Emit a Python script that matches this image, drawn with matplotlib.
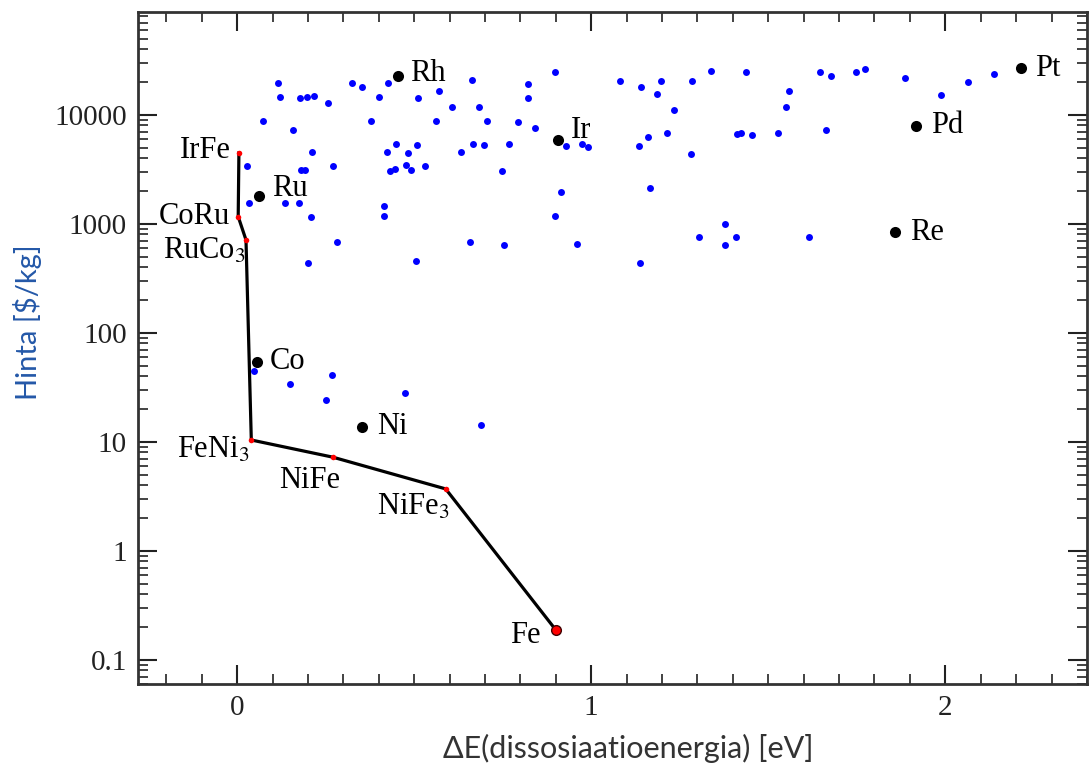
import matplotlib
matplotlib.use('Agg')
import matplotlib.pyplot as plt
from matplotlib.ticker import MultipleLocator, LogLocator, NullFormatter

plt.rcParams['mathtext.fontset'] = 'stix'

# blue: other alloys
blue_x = [0.116, 0.121, 0.072, 0.158, 0.177, 0.196, 0.217, 0.257, 0.325, 0.354,
          0.427, 0.401, 0.377, 0.511, 0.570, 0.606, 0.561, 0.662, 0.683, 0.705,
          0.792, 0.841, 0.822, 0.822, 0.897, 0.212, 0.029, 0.180, 0.193, 0.271,
          0.450, 0.422, 0.483, 0.508, 0.433, 0.445, 0.476, 0.490, 0.530, 0.631,
          0.667, 0.697, 0.768, 0.747, 0.930, 0.973, 0.992, 0.916, 0.899, 0.033,
          0.135, 0.175, 0.208, 0.414, 0.414, 0.281, 0.199, 0.505, 0.659, 0.754,
          0.959, 1.081, 1.140, 1.197, 1.185, 1.234, 1.285, 1.337, 1.437, 1.558,
          1.550, 1.646, 1.676, 1.748, 1.773, 1.886, 1.987, 2.063, 2.138, 1.136,
          1.159, 1.213, 1.281, 1.411, 1.422, 1.453, 1.527, 1.663, 1.167, 1.378,
          1.305, 1.409, 1.378, 1.616, 1.138, 0.047, 0.149, 0.267, 0.251, 0.474,
          0.688]
blue_y = [19800, 14700, 8810, 7280, 14400, 14700, 15000, 12800, 19800, 17900,
          19800, 14700, 8810, 14400, 16700, 11800, 8870, 20900, 11900, 8870,
          8570, 7640, 19200, 14200, 24700, 4600, 3430, 3130, 3130, 3400,
          5380, 4550, 4450, 5310, 3060, 3170, 3480, 3130, 3430, 4550,
          5420, 5310, 5380, 3060, 5230, 5380, 5120, 1980, 1180, 1550,
          1550, 1570, 1150, 1460, 1170, 679, 442, 458, 689, 642,
          656, 20600, 18200, 20600, 15500, 11100, 20600, 25500, 24700, 16700,
          11800, 24700, 22900, 24700, 26400, 21700, 15300, 20200, 23800, 5230,
          6240, 6790, 4360, 6650, 6790, 6560, 6790, 7280, 2130, 1000,
          765, 765, 642, 765, 436, 44.8, 34.0, 41.2, 24.3, 28.0,
          14.3]

# black: pure metals
metal_names = ['Rh', 'Ir', 'Ru', 'Pt', 'Pd', 'Re', 'Co', 'Ni']
metal_x = [0.453, 0.907, 0.062, 2.214, 1.916, 1.858, 0.056, 0.353]
metal_y = [22800, 5900, 1820, 26800, 7930, 839, 54.6, 13.8]

# red: Pareto front
front_names = ['IrFe', 'CoRu', r'RuCo$_3$', r'FeNi$_3$', 'NiFe', r'NiFe$_3$', 'Fe']
front_x = [0.005, 0.003, 0.025, 0.040, 0.270, 0.589, 0.900]
front_y = [4480, 1166, 713, 10.4, 7.24, 3.70, 0.188]

metal_off = {'Rh': (9, 1.5), 'Ir': (9, 7), 'Ru': (9, 5), 'Pt': (10, 0), 'Pd': (11, 0),
             'Re': (11, 0), 'Co': (9, 0), 'Ni': (11, 0)}
front_off = [(-6, 1.5, 'right'), (-6, 0, 'right'), (0, -8, 'right'), (-1, -7, 'right'),
             (-17, -17, 'center'), (3, -13, 'right'), (-11, -4, 'right')]

fig = plt.figure(figsize=(10.9, 7.67), dpi=100)
ax = fig.add_axes([0.1266, 0.1082, 0.8706, 0.8762])

ax.plot(front_x, front_y, color='black', lw=2.3, zorder=2)
ax.plot(blue_x, blue_y, 'o', color='#0000ff', ms=5, mew=0, zorder=3)
ax.plot(metal_x, metal_y, 'o', color='black', ms=8, mew=0, zorder=4)
ax.plot(front_x[:-1], front_y[:-1], 'o', color='#ff0000', ms=4, mew=0, zorder=5)
ax.plot(front_x[-1:], front_y[-1:], 'o', color='#ff0000', ms=7, mec='#400000', mew=1, zorder=5)

for n, x, y in zip(metal_names, metal_x, metal_y):
    dx, dy = metal_off[n]
    ax.annotate(n, (x, y), xytext=(dx, dy), textcoords='offset points',
                ha='left', va='center', fontsize=22, family='Liberation Serif')
for n, x, y, (dx, dy, ha) in zip(front_names, front_x, front_y, front_off):
    ax.annotate(n, (x, y), xytext=(dx, dy), textcoords='offset points',
                ha=ha, va='center', fontsize=22, family='Liberation Serif')

ax.set_yscale('log')
ax.set_xlim(-0.28, 2.4)
ax.set_ylim(0.06, 88000)

ax.set_xticks([0, 1, 2])
ax.set_xticklabels(['0', '1', '2'])
ax.xaxis.set_minor_locator(MultipleLocator(0.1))
ax.set_yticks([0.1, 1, 10, 100, 1000, 10000])
ax.set_yticklabels(['0.1', '1', '10', '100', '1000', '10000'])
ax.yaxis.set_minor_locator(LogLocator(base=10, subs=range(2, 10), numticks=20))
ax.yaxis.set_minor_formatter(NullFormatter())

ax.tick_params(which='both', direction='in', top=True, right=True, colors='#222222')
ax.tick_params(which='major', length=14, width=1.5, labelsize=21, pad=8)
ax.tick_params(which='minor', length=7, width=1.2)
for lab in ax.get_xticklabels() + ax.get_yticklabels():
    lab.set_family('Liberation Serif')
for s in ax.spines.values():
    s.set_linewidth(2)
    s.set_color('#333333')

fig.text(628 / 1090, 19 / 767, 'ΔE(dissosiaatioenergia) [eV]', fontsize=22, family='Lato',
         color='#333333', ha='center', va='center')
fig.text(28 / 1090, 1 - 322 / 767, 'Hinta [$/kg]', fontsize=21, family='Lato',
         color='#2458a8', ha='center', va='center', rotation=90)

fig.savefig('out.png', dpi=100)
